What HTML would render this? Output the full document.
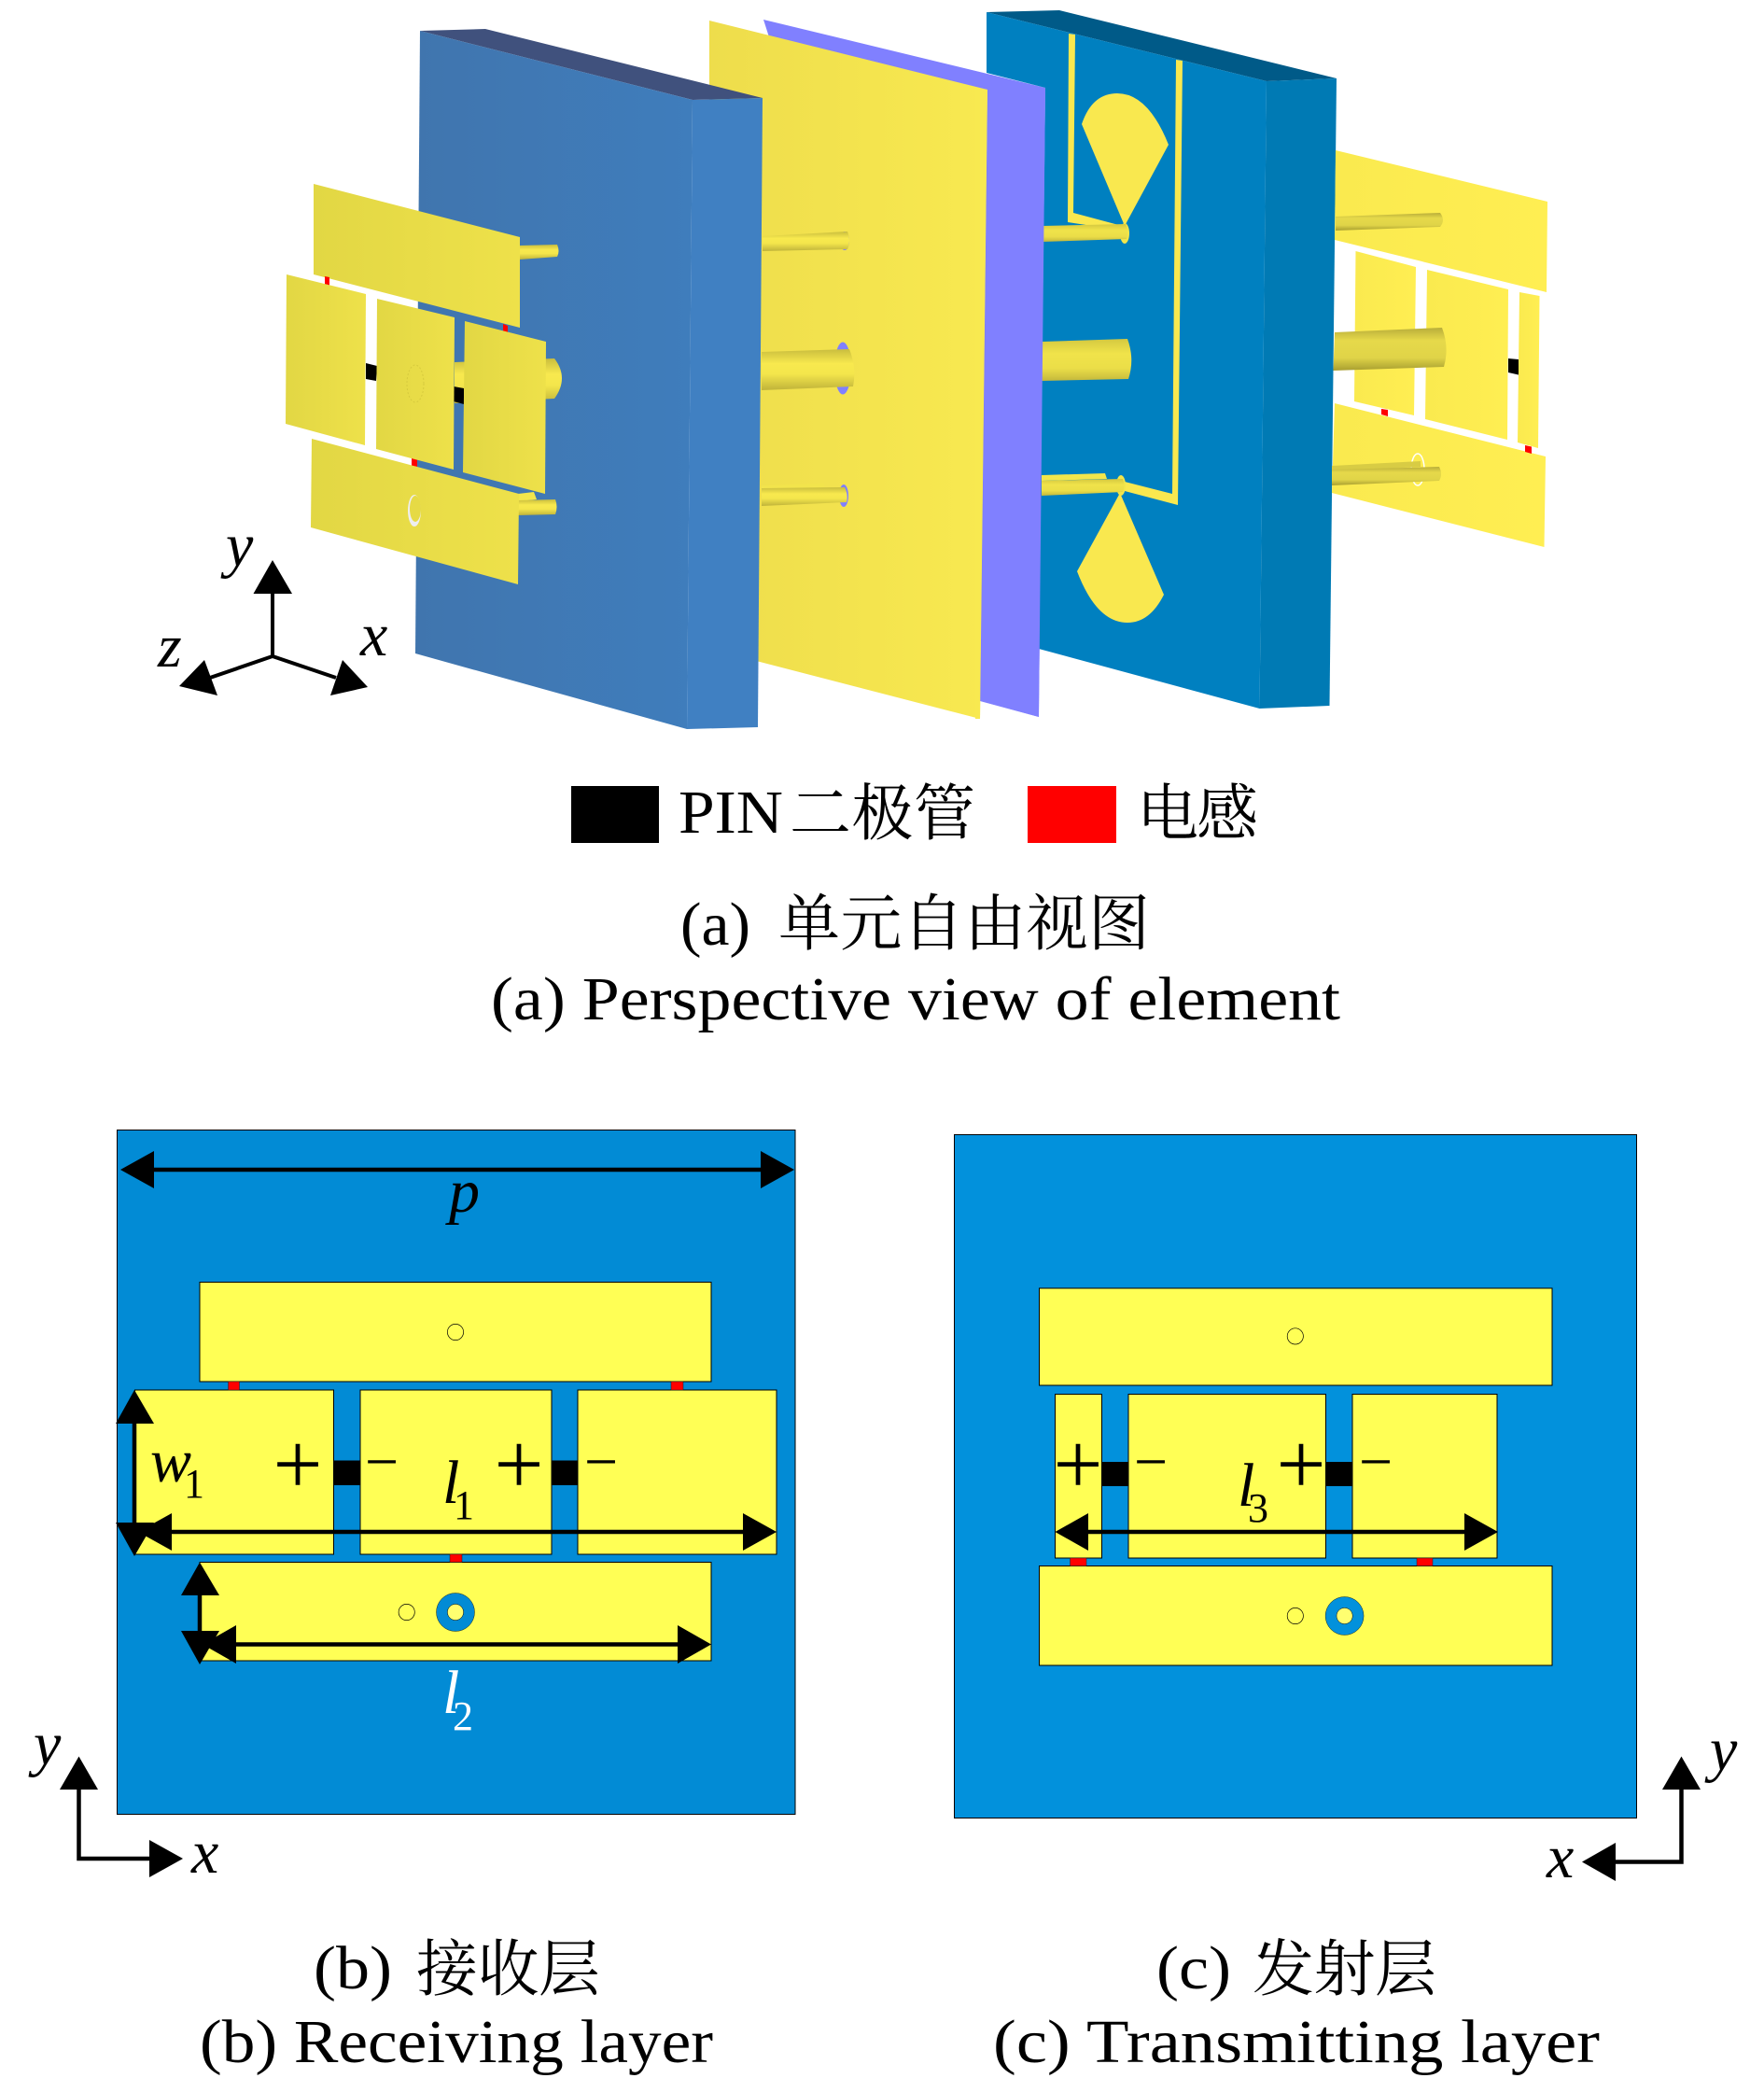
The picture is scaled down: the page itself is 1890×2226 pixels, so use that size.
<!DOCTYPE html>
<html><head><meta charset="utf-8">
<style>
html,body{margin:0;padding:0;background:#fff}
svg{display:block}
text{font-family:"Liberation Serif","Noto Serif CJK SC",serif;fill:#000}
.m{font-style:italic;font-size:66px}
.s{font-size:44px}
.c{font-size:66px}
.t{font-size:66px}
.pl{font-size:94px}
.mi{font-size:64px}
</style></head><body>
<svg width="1890" height="2226" viewBox="0 0 1890 2226" xmlns="http://www.w3.org/2000/svg">
<defs>
<linearGradient id="pin" x1="0" y1="0" x2="0" y2="1"><stop offset="0" stop-color="#c9bd3e"/><stop offset=".35" stop-color="#f8e94e"/><stop offset=".6" stop-color="#f4e64c"/><stop offset="1" stop-color="#bfb33a"/></linearGradient>
<linearGradient id="pinb" x1="0" y1="0" x2="0" y2="1"><stop offset="0" stop-color="#d4c840"/><stop offset=".35" stop-color="#f0e34a"/><stop offset=".7" stop-color="#ebde48"/><stop offset="1" stop-color="#c4b83c"/></linearGradient>
<linearGradient id="pinr" x1="0" y1="0" x2="0" y2="1"><stop offset="0" stop-color="#b8ad3a"/><stop offset=".3" stop-color="#e6d94a"/><stop offset=".7" stop-color="#e0d448"/><stop offset="1" stop-color="#a89e30"/></linearGradient>
<linearGradient id="sheet" x1="0" y1="0" x2="1" y2="0"><stop offset="0" stop-color="#eedd4c"/><stop offset="1" stop-color="#f8e950"/></linearGradient>
<linearGradient id="lp" x1="0" y1="0" x2="1" y2="0"><stop offset="0" stop-color="#e2d744"/><stop offset="1" stop-color="#eee14a"/></linearGradient>
<linearGradient id="rp" x1="0" y1="0" x2="1" y2="0"><stop offset="0" stop-color="#faea4f"/><stop offset="1" stop-color="#ffee52"/></linearGradient>
<linearGradient id="b1" x1="0" y1="0" x2="1" y2="0"><stop offset="0" stop-color="#4075ae"/><stop offset="1" stop-color="#3f7dbc"/></linearGradient>
</defs>

<!-- Purple sheet -->
<polygon points="818,21 1120,94 1113,768 1051,751" fill="#8080ff"/>
<!-- Yellow sheet -->
<polygon points="760,22 1058,96 1050,770 760,695" fill="url(#sheet)"/>

<!-- Block 1 -->
<polygon points="450,33 520,31 817,105 742,107" fill="#40517d"/>
<polygon points="450,33 742,107 736,781 445,700" fill="url(#b1)"/>
<polygon points="742,107 817,105 812,779 736,781" fill="#4080c2"/>

<!-- Pins over yellow sheet -->
<ellipse cx="905" cy="258" rx="5" ry="10" fill="#8080ff"/>
<ellipse cx="903" cy="394.5" rx="9" ry="28" fill="#8080ff"/>
<ellipse cx="904" cy="531" rx="5" ry="12" fill="#8080ff"/>
<path d="M817,253 L908,248 Q912,258 908,267 L817,269Z" fill="url(#pin)"/>
<path d="M816,377 L910,374 Q918,394 914,414 L816,418Z" fill="url(#pin)"/>
<polygon points="816,520 883,518 883,522 816,526" fill="#f2e44c"/>
<path d="M816,523 L905,522 Q909,530 907,538 L816,542Z" fill="url(#pin)"/>

<!-- Block 2 -->
<polygon points="1057,13 1135,11 1432,84 1357,87" fill="#005a88"/>
<polygon points="1120,94 1057,78 1057,13 1357,87 1349.5,759 1113,695" fill="#0080c0"/>
<polygon points="1357,87 1432,84 1424.5,756 1349.5,759" fill="#007ab4"/>
<polygon points="1145,36 1152,37 1150,228 1206,243 1203,247 1144,238" fill="#f9e84f"/>
<polygon points="1260,64 1267,65 1262,541 1205,526 1205,516 1256,529" fill="#f9e84f"/>
<path d="M1205,242 L1159,133 Q1170,100 1197,100 Q1230,100 1252,155 Z" fill="#f9e84f"/>
<path d="M1200,528 L1154,612 Q1175,667 1208,667 Q1232,667 1247,637 Z" fill="#f9e84f"/>
<ellipse cx="1205" cy="250" rx="5" ry="11" fill="#f2e64c"/>
<ellipse cx="1201" cy="520" rx="5" ry="11" fill="#f2e64c"/>
<path d="M1117,242 L1206,240 Q1210,248 1207,256 L1117,259Z" fill="url(#pinb)"/>
<path d="M1116,366 L1208,363 Q1216,385 1209,406 L1116,408Z" fill="url(#pinb)"/>
<polygon points="1116,509 1184,507 1186,513 1116,515" fill="#f2e64c"/>
<path d="M1116,515 L1203,513 Q1206,520 1203,527 L1116,531Z" fill="url(#pinb)"/>

<!-- Redraw purple/yellow over block left edge -->
<polygon points="1058,96 1120,94 1113,768 1050,751" fill="#8080ff"/>
<polygon points="1058,96 1050,770 1050,770 1045,770 1045,95" fill="#f8e950"/>

<!-- Left patch assembly -->
<path d="M557,263 L597,262 Q600,269 597,275 L557,278Z" fill="url(#pin)"/>
<polygon points="555,529 572,527 575,535 555,537" fill="#f2e64c"/>
<path d="M555,536 L595,535 Q598,543 595,551 L555,552Z" fill="url(#pin)"/>
<path d="M487,388 L594,384 Q610,405 594,427 L487,432Z" fill="url(#pin)"/>
<polygon points="336,197 557,254 557,351 336,294" fill="url(#lp)"/>
<polygon points="348,296 353,297 353,306 348,305" fill="#f00"/>
<polygon points="539,347 544,349 544,356 539,355" fill="#f00"/>
<polygon points="441,490 447,492 447,500 441,499" fill="#f00"/>
<polygon points="392,389 404,392 403,408 392,406" fill="#000"/>
<polygon points="486,414 497,416 497,433 486,430" fill="#000"/>
<polygon points="307,294 392,315 391,477 306,454" fill="url(#lp)"/>
<polygon points="404,320 487,340 486,503 403,481" fill="url(#lp)"/>
<polygon points="498,344 585,366 584,529 496,506" fill="url(#lp)"/>
<polygon points="334,470 556,529 555,626 333,565" fill="url(#lp)"/>
<ellipse cx="444" cy="547" rx="7" ry="17" fill="#eee"/>
<ellipse cx="445" cy="545" rx="6" ry="14" fill="#e6da45"/>
<ellipse cx="445" cy="411" rx="9" ry="20" fill="none" stroke="#d6ca3e" stroke-width="1" stroke-dasharray="2 2"/>

<!-- Right patch assembly -->
<polygon points="1431,161 1658,216 1657,313 1430,257" fill="url(#rp)"/>
<polygon points="1452.5,269 1517,286 1515,445 1451,430" fill="url(#rp)"/>
<polygon points="1529,289 1616,310 1615,471 1527,449" fill="url(#rp)"/>
<polygon points="1628,313 1649.5,317 1648,480 1626,474" fill="url(#rp)"/>
<polygon points="1430,432 1656,489 1654.5,586 1427,528" fill="url(#rp)"/>
<polygon points="1616,384 1627,385 1627,401.5 1616,399" fill="#000"/>
<polygon points="1480,438 1487,439 1487,446 1480,444" fill="#f00"/>
<polygon points="1634,477 1641,478.5 1641,486 1634,484" fill="#f00"/>
<path d="M1431,232 L1543,228 Q1549,236 1543,243 L1431,247Z" fill="url(#pinr)"/>
<path d="M1430,356 L1545,351 Q1553,372 1547,393 L1428.5,397Z" fill="url(#pinr)"/>
<ellipse cx="1519" cy="503" rx="7" ry="17" fill="none" stroke="#fff" stroke-width="1.5"/>
<polygon points="1427,499 1522,494 1522,500 1427,505" fill="#d8cc44"/>
<path d="M1427,503 L1542,500 Q1546,508 1542,515 L1427,520Z" fill="url(#pinr)"/>

<!-- 3D axes -->
<g stroke="#000" stroke-width="4" fill="none"><path d="M292,630 V703 L225,726 M292,703 L360,726"/></g>
<polygon points="292,600 271.5,636 313,636"/>
<polygon points="192,735 219,707 233,745"/>
<polygon points="394,736 367,707 354,745"/>
<text class="m" x="242" y="606">y</text>
<text class="m" x="169" y="714">z</text>
<text class="m" x="386" y="702">x</text>

<!-- Legend -->
<rect x="612" y="842" width="94" height="61" fill="#000"/>
<rect x="1101" y="842" width="95" height="61" fill="#f00"/>
<text class="t" x="727" y="892" textLength="112" lengthAdjust="spacingAndGlyphs">PIN</text>
<text class="c" x="846" y="894" textLength="199">二极管</text>
<text class="c" x="1218" y="894" textLength="130">电感</text>

<!-- Captions (a) -->
<text class="t" x="729" y="1012" textLength="75" lengthAdjust="spacingAndGlyphs">(a)</text>
<text class="c" x="834" y="1012" textLength="398">单元自由视图</text>
<text class="t" x="526" y="1092" textLength="910" lengthAdjust="spacingAndGlyphs">(a) Perspective view of element</text>

<!-- Panel b -->
<rect x="125.5" y="1210.5" width="726.5" height="733" fill="#028bd5" stroke="#000" stroke-width="1"/>
<g fill="#ffff55" stroke="#000" stroke-width="1">
<rect x="214" y="1373.5" width="548" height="106.5"/>
<rect x="144.5" y="1489" width="213" height="176"/>
<rect x="386" y="1489" width="205" height="176"/>
<rect x="619" y="1489" width="213" height="176"/>
<rect x="214" y="1673.5" width="548" height="105.5"/>
</g>
<g fill="#f00" stroke="#222" stroke-width=".5">
<rect x="244.5" y="1480" width="12" height="9"/>
<rect x="719" y="1480" width="13" height="9"/>
<rect x="482" y="1665" width="13" height="8.5"/>
</g>
<rect x="357.5" y="1564.5" width="28.5" height="26.5" fill="#000"/>
<rect x="591" y="1564.5" width="28" height="26.5" fill="#000"/>
<circle cx="488" cy="1427" r="8.6" fill="#ffff55" stroke="#000" stroke-width=".7"/>
<circle cx="435.7" cy="1727" r="8.6" fill="#ffff55" stroke="#000" stroke-width=".7"/>
<circle cx="488" cy="1727" r="20.5" fill="#028bd5" stroke="#000" stroke-width=".4"/>
<circle cx="488" cy="1727" r="8.6" fill="#ffff70" stroke="#000" stroke-width=".5"/>
<g stroke="#000" stroke-width="4.5" fill="none">
<path d="M150,1253 H830"/><path d="M144,1510 V1650"/><path d="M170,1641 H810"/>
<path d="M214,1695 V1765"/><path d="M240,1761.5 H740"/>
<path d="M84.5,1905 V1991 H170"/>
</g>
<polygon points="129,1253 165,1233 165,1273"/><polygon points="851,1253 815,1233 815,1273"/>
<polygon points="144,1489 124,1525 165,1525"/><polygon points="144,1667 124,1631 165,1631"/>
<polygon points="148,1641 184,1621 184,1661"/><polygon points="832,1641 796,1621 796,1661"/>
<polygon points="214,1673.5 194,1709 235,1709"/><polygon points="214,1783 194,1747 235,1747"/>
<polygon points="217,1761.5 253,1741 253,1782"/><polygon points="762,1761.5 726,1741 726,1782"/>
<polygon points="84.5,1881.5 64,1917 105,1917"/><polygon points="196,1991 160,1971 160,2011"/>
<text class="m" x="481" y="1298" textLength="33" lengthAdjust="spacingAndGlyphs">p</text>
<text class="m" x="161" y="1587" textLength="44" lengthAdjust="spacingAndGlyphs">w</text><text class="s" x="197" y="1604">1</text>
<text class="m" x="474" y="1610">l</text><text class="s" x="486" y="1627">1</text>
<text class="m" x="474" y="1835" style="fill:#fff">l</text><text class="s" x="485" y="1853" style="fill:#fff">2</text>
<text class="pl" x="319" y="1600" text-anchor="middle">+</text>
<text class="mi" x="409" y="1587" text-anchor="middle">−</text>
<text class="pl" x="556" y="1600" text-anchor="middle">+</text>
<text class="mi" x="644" y="1587" text-anchor="middle">−</text>
<text class="m" x="36" y="1890">y</text>
<text class="m" x="205" y="2006">x</text>

<!-- Panel c -->
<rect x="1022.5" y="1215.5" width="731" height="732" fill="#0291dc" stroke="#000" stroke-width="1"/>
<g fill="#ffff55" stroke="#000" stroke-width="1">
<rect x="1113.5" y="1380" width="549.5" height="104"/>
<rect x="1130.5" y="1493.5" width="50" height="175.5"/>
<rect x="1209" y="1493.5" width="211.5" height="175.5"/>
<rect x="1449" y="1493.5" width="155" height="175.5"/>
<rect x="1113.5" y="1677.5" width="549.5" height="106.5"/>
</g>
<g fill="#f00" stroke="#222" stroke-width=".5">
<rect x="1146.5" y="1669" width="17.5" height="8.5"/>
<rect x="1518" y="1669" width="17" height="8.5"/>
</g>
<rect x="1180.5" y="1566" width="28.5" height="26" fill="#000"/>
<rect x="1420.5" y="1566" width="28.5" height="26" fill="#000"/>
<circle cx="1387.8" cy="1431.4" r="8.6" fill="#ffff55" stroke="#000" stroke-width=".7"/>
<circle cx="1387.8" cy="1731" r="8.6" fill="#ffff55" stroke="#000" stroke-width=".7"/>
<circle cx="1440.6" cy="1731" r="20.5" fill="#0291dc" stroke="#000" stroke-width=".4"/>
<circle cx="1440.6" cy="1731" r="8.6" fill="#ffff70" stroke="#000" stroke-width=".5"/>
<g stroke="#000" stroke-width="4.5" fill="none">
<path d="M1150,1641 H1585"/>
<path d="M1801.5,1905 V1994.5 H1720"/>
</g>
<polygon points="1130.5,1641 1166,1621 1166,1661"/><polygon points="1605,1641 1569,1621 1569,1661"/>
<polygon points="1801.5,1881.5 1781,1917 1822,1917"/><polygon points="1695,1994.5 1731,1974 1731,2015"/>
<text class="m" x="1326" y="1613">l</text><text class="s" x="1337" y="1630">3</text>
<text class="pl" x="1155" y="1600" text-anchor="middle">+</text>
<text class="mi" x="1233" y="1587" text-anchor="middle">−</text>
<text class="pl" x="1394" y="1600" text-anchor="middle">+</text>
<text class="mi" x="1474" y="1587" text-anchor="middle">−</text>
<text class="m" x="1832" y="1896">y</text>
<text class="m" x="1657" y="2011">x</text>

<!-- Captions b, c -->
<text class="t" x="336" y="2130" textLength="84" lengthAdjust="spacingAndGlyphs">(b)</text>
<text class="c" x="446" y="2132" textLength="197">接收层</text>
<text class="t" x="214" y="2209" textLength="550" lengthAdjust="spacingAndGlyphs">(b) Receiving layer</text>
<text class="t" x="1239" y="2130" textLength="80" lengthAdjust="spacingAndGlyphs">(c)</text>
<text class="c" x="1342" y="2132" textLength="197">发射层</text>
<text class="t" x="1064" y="2209" textLength="650" lengthAdjust="spacingAndGlyphs">(c) Transmitting layer</text>
</svg>
</body></html>
